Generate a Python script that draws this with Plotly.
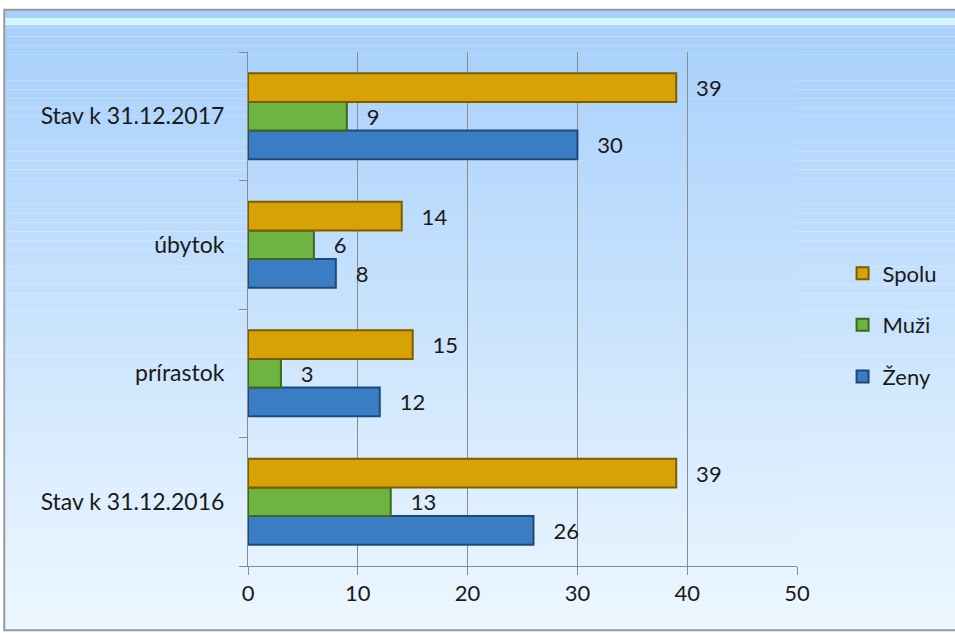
import plotly.graph_objects as go

categories = ["Stav k 31.12.2016", "prírastok", "úbytok", "Stav k 31.12.2017"]
zeny = [26, 12, 8, 30]
muzi = [13, 3, 6, 9]
spolu = [39, 15, 14, 39]
x_ticks = [0, 10, 20, 30, 40, 50]

series = [
    ("Ženy", zeny, "#3a7dc4", "#1d4a7a", 3),
    ("Muži", muzi, "#6db442", "#3a6a1e", 2),
    ("Spolu", spolu, "#d6a206", "#7d5c00", 1),
]

FONT = "Lato"
FS = 22
fig = go.Figure()
for name, vals, col, edge, rank in series:
    fig.add_trace(go.Bar(
        y=categories, x=vals, name=name, orientation="h",
        marker=dict(color=col, line=dict(color=edge, width=2)),
        text=vals, texttemplate="   %{x}", textposition="outside",
        textfont=dict(size=FS, color="#1a1a1a", family=FONT),
        cliponaxis=False, legendrank=rank, legendgroup=name,
    ))

# background gradient (paper coordinates)
shapes = []
n = 70
top = (166, 207, 251)
bot = (236, 247, 255)
ytop, ybot = 1.082, -0.125
xl, xr = -0.444, 1.30
h = (ytop - ybot) / n
for i in range(n):
    t = i / (n - 1)
    c = tuple(int(round(top[k] + (bot[k] - top[k]) * t)) for k in range(3))
    shapes.append(dict(type="rect", xref="paper", yref="paper", layer="below",
                       x0=xl, x1=xr, y0=ytop - (i + 1) * h, y1=ytop - i * h,
                       fillcolor="rgb(%d,%d,%d)" % c, line=dict(width=0)))
# highlight band near top edge
shapes.append(dict(type="rect", xref="paper", yref="paper", layer="below",
                   x0=xl, x1=xr, y0=1.052, y1=1.066,
                   fillcolor="rgba(215,247,255,0.95)", line=dict(width=0)))
# frame border
shapes.append(dict(type="rect", xref="paper", yref="paper", layer="below",
                   x0=xl, x1=xr, y0=ybot, y1=ytop,
                   fillcolor="rgba(0,0,0,0)", line=dict(color="#9a9a9a", width=2)))

fig.update_layout(
    width=955, height=633,
    margin=dict(l=248, r=158, t=52, b=67, autoexpand=False),
    paper_bgcolor="white",
    plot_bgcolor="#dde8f4",
    barmode="group", bargap=0.33, bargroupgap=0,
    font=dict(family=FONT, size=FS, color="#1a1a1a"),
    shapes=shapes,
    showlegend=True,
    legend=dict(x=1.083, y=0.469, xanchor="left", yanchor="middle",
                traceorder="grouped", tracegroupgap=20,
                bgcolor="rgba(0,0,0,0)", font=dict(size=FS, family=FONT),
                itemwidth=30),
    xaxis=dict(range=[0, 50], tickvals=x_ticks, showgrid=True, gridcolor="#8c8c8c",
               gridwidth=1, showline=True, linecolor="#8c8c8c", linewidth=1,
               ticks="outside", ticklen=8, tickcolor="#8c8c8c", zeroline=False,
               tickfont=dict(size=FS, family=FONT)),
    yaxis=dict(type="category", categoryorder="array", categoryarray=categories,
               showline=True, linecolor="#8c8c8c", linewidth=1,
               ticks="outside", ticklen=8, tickcolor="#8c8c8c", tickson="boundaries",
               ticklabelstandoff=18, showgrid=False,
               tickfont=dict(size=23, family=FONT)),
)

fig.write_html("out.html")
